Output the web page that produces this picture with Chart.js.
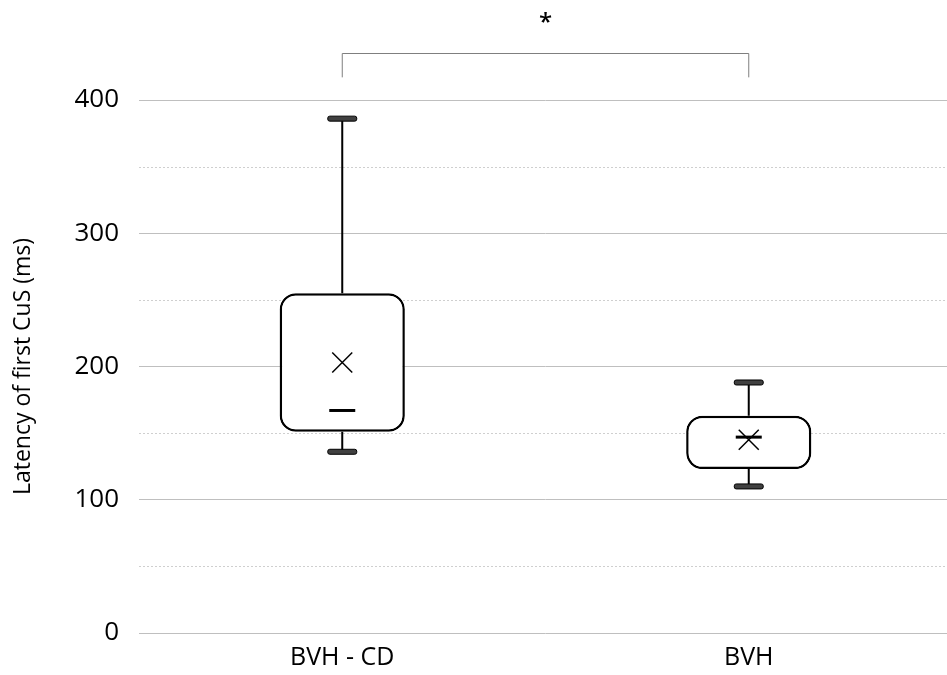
<!DOCTYPE html>
<html lang="en">
<head>
  <meta charset="UTF-8" />
  <title>Latency of first CuS</title>
  <script src="https://cdn.jsdelivr.net/npm/chart.js"></script>
  <style>
    body {
      margin: 0;
      background: #fff;
      overflow: hidden;
    }
    #wrap {
      width: 947px;
      height: 675px;
      overflow: hidden;
    }
  </style>
</head>
<body>
  <div id="wrap">
    <canvas id="boxChart" width="952" height="675"></canvas>
  </div>

  <script>
    // values (ms)
    const categories = ['BVH - CD', 'BVH'];
    const whiskerLow = [136, 110];
    const q1 = [151, 123];
    const median = [167, 147];
    const q3 = [255, 163];
    const whiskerHigh = [386, 188];
    const means = [203, 145];

    // significance bracket between the two groups
    const sigPair = [0, 1];
    const sigLabel = '*';
    const sigTop = 435;
    const sigLegEnd = 417;
    const sigTextAt = 458;

    const FONT = '"Open Sans", sans-serif';

    // whiskers, caps, median, mean and the bracket are drawn on top of the boxes
    const boxExtras = {
      id: 'boxExtras',
      beforeDatasetsDraw(chart) {
        const { ctx, chartArea, scales } = chart;
        const y = scales.y;
        ctx.save();
        ctx.strokeStyle = '#cfcfcf';
        ctx.lineWidth = 1;
        ctx.setLineDash([2, 2]);
        y.ticks.forEach(t => {
          if (t.value % 100 === 0) return;
          const py = Math.round(y.getPixelForValue(t.value)) + 0.5;
          ctx.beginPath();
          ctx.moveTo(chartArea.left, py);
          ctx.lineTo(chartArea.right, py);
          ctx.stroke();
        });
        ctx.restore();
      },
      afterDatasetsDraw(chart) {
        const { ctx, scales } = chart;
        const x = scales.x, y = scales.y;
        ctx.save();
        categories.forEach((c, i) => {
          const cx = x.getPixelForValue(i);
          const pLow = y.getPixelForValue(whiskerLow[i]);
          const pHigh = y.getPixelForValue(whiskerHigh[i]);
          const pQ1 = y.getPixelForValue(q1[i]);
          const pQ3 = y.getPixelForValue(q3[i]);

          // whisker lines
          ctx.strokeStyle = '#000';
          ctx.lineWidth = 2;
          ctx.beginPath();
          ctx.moveTo(cx, pQ3);
          ctx.lineTo(cx, pHigh);
          ctx.moveTo(cx, pQ1);
          ctx.lineTo(cx, pLow);
          ctx.stroke();

          // caps
          [pHigh, pLow].forEach(py => {
            ctx.beginPath();
            ctx.roundRect(cx - 14.5, py - 2.5, 29, 5, 2);
            ctx.fillStyle = '#404040';
            ctx.fill();
            ctx.lineWidth = 1;
            ctx.strokeStyle = '#000';
            ctx.stroke();
          });

          // median
          const pMed = y.getPixelForValue(median[i]);
          ctx.lineWidth = 3;
          ctx.beginPath();
          ctx.moveTo(cx - 13, pMed);
          ctx.lineTo(cx + 13, pMed);
          ctx.stroke();

          // mean marker
          const pMean = y.getPixelForValue(means[i]);
          ctx.lineWidth = 1.5;
          ctx.beginPath();
          ctx.moveTo(cx - 10, pMean - 10);
          ctx.lineTo(cx + 10, pMean + 10);
          ctx.moveTo(cx + 10, pMean - 10);
          ctx.lineTo(cx - 10, pMean + 10);
          ctx.stroke();
        });

        // bracket
        const bx1 = x.getPixelForValue(sigPair[0]);
        const bx2 = x.getPixelForValue(sigPair[1]);
        const bTop = Math.round(y.getPixelForValue(sigTop)) + 0.5;
        const bLeg = y.getPixelForValue(sigLegEnd);
        ctx.strokeStyle = '#7f7f7f';
        ctx.lineWidth = 1;
        ctx.beginPath();
        ctx.moveTo(bx1, bLeg);
        ctx.lineTo(bx1, bTop);
        ctx.lineTo(bx2, bTop);
        ctx.lineTo(bx2, bLeg);
        ctx.stroke();

        ctx.fillStyle = '#000';
        ctx.font = '600 24px ' + FONT;
        ctx.textAlign = 'center';
        ctx.textBaseline = 'middle';
        ctx.fillText(sigLabel, (bx1 + bx2) / 2, y.getPixelForValue(sigTextAt));
        ctx.restore();
      }
    };

    new Chart(document.getElementById('boxChart'), {
      type: 'bar',
      data: {
        labels: categories,
        datasets: [{
          label: 'IQR',
          data: categories.map((c, i) => [q1[i], q3[i]]),
          backgroundColor: '#ffffff',
          borderColor: '#000000',
          borderWidth: 2.5,
          borderRadius: 16,
          borderSkipped: false,
          barPercentage: 1,
          categoryPercentage: 0.308
        }]
      },
      options: {
        responsive: false,
        animation: false,
        layout: { padding: { top: 100, right: 0, bottom: 0, left: 0 } },
        plugins: {
          legend: { display: false },
          tooltip: { enabled: false }
        },
        scales: {
          x: {
            grid: { display: false, drawTicks: false },
            border: { display: false },
            ticks: {
              color: '#000',
              padding: 10,
              font: { family: FONT, size: 25 }
            },
            afterFit(scale) { scale.height = 42; }
          },
          y: {
            min: 0,
            max: 400,
            grid: {
              drawTicks: false,
              color: ctx => (ctx.tick && ctx.tick.value % 100 === 0) ? '#bfbfbf' : 'rgba(0,0,0,0)',
              lineWidth: 1
            },
            border: { display: false },
            ticks: {
              stepSize: 50,
              color: '#000',
              padding: 20,
              font: { family: FONT, size: 26 },
              callback: v => (v % 100 === 0 ? v : '')
            },
            title: {
              display: true,
              text: 'Latency of first CuS (ms)',
              color: '#000',
              padding: { top: 10, bottom: 0 },
              font: { family: FONT, size: 23 }
            },
            afterFit(scale) { scale.width = 139; }
          }
        }
      },
      plugins: [boxExtras]
    });
  </script>
</body>
</html>
